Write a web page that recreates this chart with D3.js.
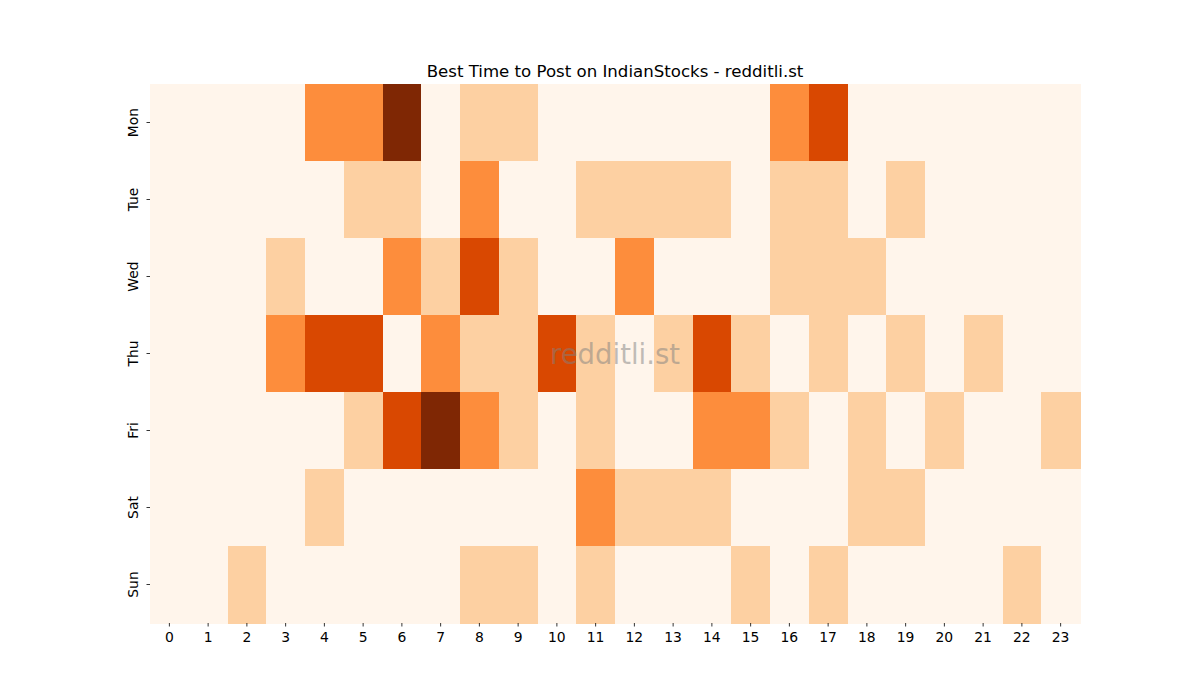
<!DOCTYPE html>
<html>
<head>
<meta charset="utf-8">
<script src="https://cdn.jsdelivr.net/npm/d3@7"></script>
<style>
    body { margin: 0; background: #fff; }
    text { font-family: "DejaVu Sans", sans-serif; }
</style>
</head>
<body>
<div class="js-heatmap"></div>
<script>
'use strict';

// data
const days = ['Mon', 'Tue', 'Wed', 'Thu', 'Fri', 'Sat', 'Sun'];
const hours = d3.range(24);

// activity level per hour (0 = lowest, 4 = highest)
const mon = [0,0,0,0,2,2,4,0,1,1,0,0,0,0,0,0,2,3,0,0,0,0,0,0];
const tue = [0,0,0,0,0,1,1,0,2,0,0,1,1,1,1,0,1,1,0,1,0,0,0,0];
const wed = [0,0,0,1,0,0,2,1,3,1,0,0,2,0,0,0,1,1,1,0,0,0,0,0];
const thu = [0,0,0,2,3,3,0,2,1,1,3,1,0,1,3,1,0,1,0,1,0,1,0,0];
const fri = [0,0,0,0,0,1,3,4,2,1,0,1,0,0,2,2,1,0,1,0,1,0,0,1];
const sat = [0,0,0,0,1,0,0,0,0,0,0,2,1,1,1,0,0,0,1,1,0,0,0,0];
const sun = [0,0,1,0,0,0,0,0,1,1,0,1,0,0,0,1,0,1,0,0,0,0,1,0];

const rows = [mon, tue, wed, thu, fri, sat, sun];

const title = 'Best Time to Post on IndianStocks - redditli.st';
const watermark = 'redditli.st';

const width = 1200;
const height = 700;
const margin = { top: 84, right: 120, bottom: 77, left: 150 };
const graphWidth = width - margin.left - margin.right;
const graphHeight = height - margin.top - margin.bottom;

const svg = d3.select('.js-heatmap')
    .append('svg')
    .attr('width', width)
    .attr('height', height);

const graph = svg.append('g')
    .attr('transform', `translate(${margin.left}, ${margin.top})`);

// scales
const x = d3.scaleBand().domain(hours).range([0, graphWidth]);
const y = d3.scaleBand().domain(days).range([0, graphHeight]);
const color = d3.scaleOrdinal()
    .domain([0, 1, 2, 3, 4])
    .range(['#fff5eb', '#fdd0a2', '#fd8d3c', '#d94801', '#7f2704']);

const cells = [];
rows.forEach((row, i) => {
    row.forEach((v, h) => cells.push({ day: days[i], hour: h, value: v }));
});

graph.selectAll('rect')
    .data(cells)
    .enter()
    .append('rect')
    .attr('x', d => x(d.hour))
    .attr('y', d => y(d.day))
    .attr('width', x.bandwidth() + 0.5)
    .attr('height', y.bandwidth() + 0.5)
    .attr('fill', d => color(d.value))
    .attr('shape-rendering', 'crispEdges');

// axes
const xAxis = d3.axisBottom(x).tickSize(3.5).tickPadding(5.5);
const yAxis = d3.axisLeft(y).tickSize(3.5).tickPadding(3.5);

const xAxisGroup = graph.append('g')
    .attr('transform', `translate(0, ${graphHeight})`)
    .call(xAxis);

const yAxisGroup = graph.append('g')
    .call(yAxis);

[xAxisGroup, yAxisGroup].forEach(g => {
    g.select('.domain').remove();
    g.selectAll('line').attr('stroke', '#000').attr('stroke-width', 0.8);
    g.selectAll('text').attr('font-size', 13.9).attr('fill', '#000')
        .style('font-family', '"DejaVu Sans", sans-serif');
});

// rotate y labels
yAxisGroup.selectAll('text')
    .attr('x', null)
    .attr('dy', null)
    .attr('transform', 'translate(-12, 0) rotate(-90)')
    .attr('text-anchor', 'middle')
    .attr('dominant-baseline', 'auto');

// title
svg.append('text')
    .attr('x', margin.left + graphWidth / 2)
    .attr('y', margin.top - 7)
    .attr('text-anchor', 'middle')
    .attr('font-size', 16.6)
    .attr('fill', '#000')
    .text(title);

// watermark
svg.append('text')
    .attr('x', margin.left + graphWidth / 2)
    .attr('y', margin.top + graphHeight / 2)
    .attr('text-anchor', 'middle')
    .attr('dominant-baseline', 'central')
    .attr('font-size', 27.5)
    .attr('fill', '#808080')
    .attr('fill-opacity', 0.5)
    .text(watermark);
</script>
</body>
</html>
